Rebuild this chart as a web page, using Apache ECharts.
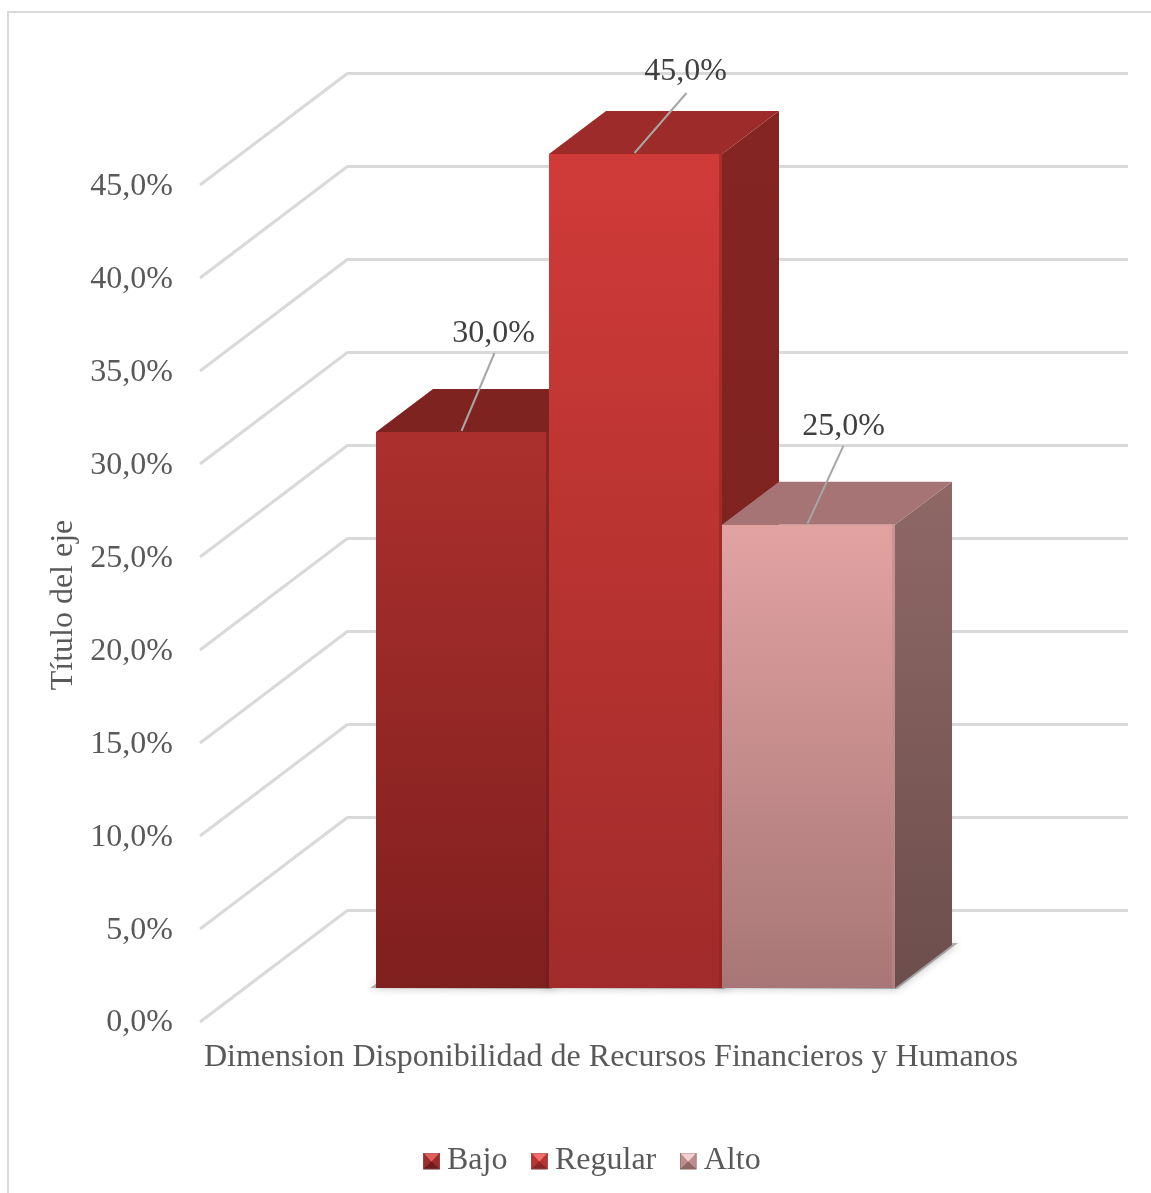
<!DOCTYPE html>
<html>
<head>
<meta charset="utf-8">
<style>html,body{margin:0;padding:0;background:#fff}#c{width:1151px;height:1193px}</style>
<script src="https://cdn.jsdelivr.net/npm/echarts@6/dist/echarts.min.js"></script>
</head>
<body>
<div id="c"></div>
<script>
const categories = ['Bajo', 'Regular', 'Alto'];
const values = [30, 45, 25];
const axisCategory = ['Dimension Disponibilidad de Recursos Financieros y Humanos'];
const yTicks = [0, 5, 10, 15, 20, 25, 30, 35, 40, 45];

const FONT = '"Liberation Serif", "Times New Roman", serif';
const TEXT = '#595959';
const DEPTH = [57, -43];
const WALL = [-148, 112];
const LABEL_SHIFT = [[31, -98, 32, -79], [50, -82, 51, -61], [35, -98, 35, -79]];
const SKIN = [
  { front: ['#ab302d', '#7f1f1e'], side: ['#7f2320', '#6c1c1a'], top: '#7f2320', edge: '#6d1d1b', icon: ['#e0605c', '#9c2b29', '#6a1e1d'] },
  { front: ['#d03b38', '#a02b2a'], side: ['#842522', '#7a211f'], top: '#9c2b29', edge: '#8a2624', icon: ['#f0706c', '#b93331', '#8c2625'] },
  { front: ['#e2a2a2', '#a87676'], side: ['#8f6866', '#6c4e4c'], top: '#a67474', edge: '#b98a8a', icon: ['#f4d2d2', '#c08c8c', '#8f6866'] }
];

function grad(c) {
  return new echarts.graphic.LinearGradient(0, 0, 0, 1, [
    { offset: 0, color: c[0] }, { offset: 1, color: c[1] }
  ]);
}
function iconOf(s) {
  const c = s.icon;
  const svg = '<svg xmlns="http://www.w3.org/2000/svg" width="17" height="17">' +
    '<rect width="17" height="17" fill="' + c[1] + '"/>' +
    '<path d="M0 0H17L8.5 9Z" fill="' + c[0] + '"/>' +
    '<path d="M0 17H17L8.5 9Z" fill="' + c[2] + '"/>' +
    '<rect x=".5" y=".5" width="16" height="16" fill="none" stroke="#7a5a5a" stroke-opacity=".6"/></svg>';
  return 'image://data:image/svg+xml;charset=utf-8,' + encodeURIComponent(svg);
}
function barRender(i) {
  return function (params, api) {
    const idx = api.value(0), val = api.value(1);
    const tl = api.coord([idx, val]);
    const br = api.coord([idx + 1, 0]);
    const s = SKIN[i], x0 = tl[0], x1 = br[0], y1 = tl[1], y0 = br[1];
    const dx = DEPTH[0], dy = DEPTH[1];
    const sh = LABEL_SHIFT[i], cx = (x0 + x1) / 2;
    return {
      type: 'group',
      children: [
        { type: 'polygon', shape: { points: [[x1, y1], [x1 + dx, y1 + dy], [x1 + dx, y0 + dy], [x1, y0]] },
          style: { fill: grad(s.side) } },
        { type: 'polygon', shape: { points: [[x0, y1], [x1, y1], [x1 + dx, y1 + dy], [x0 + dx, y1 + dy]] },
          style: { fill: s.top } },
        { type: 'rect', shape: { x: x0, y: y1, width: x1 - x0, height: y0 - y1 },
          style: { fill: grad(s.front) } },
        { type: 'rect', shape: { x: x1 - 3, y: y1, width: 3, height: y0 - y1 },
          style: { fill: s.edge, opacity: 0.55 } },
        { type: 'line', shape: { x1: cx + sh[2], y1: y1 + sh[3], x2: cx - 1, y2: y1 - 1 },
          style: { stroke: '#a6a6a6', lineWidth: 2 } },
        { type: 'text', x: cx + sh[0], y: y1 + sh[1],
          style: { text: val.toFixed(1).replace('.', ',') + '%', font: '32px ' + FONT, fill: '#404040', align: 'center', verticalAlign: 'middle' } }
      ]
    };
  };
}
function shadowRender(params, api) {
  const tl = api.coord([api.value(0), 0]);
  const br = api.coord([api.value(0) + 1, 0]);
  const y = br[1], a = tl[0], b = br[0];
  return { type: 'polygon',
    shape: { points: [[a - 6, y], [b + 2, y + 1], [b + DEPTH[0] + 6, y + DEPTH[1] - 2], [a + DEPTH[0], y + DEPTH[1]]] },
    style: { fill: 'rgba(90,90,90,.45)', shadowBlur: 9, shadowColor: 'rgba(0,0,0,.55)' } };
}
function wallRender(params, api) {
  const p = api.coord([0, api.value(0)]);
  return { type: 'line', shape: { x1: p[0], y1: p[1], x2: p[0] + WALL[0], y2: p[1] + WALL[1] },
    style: { stroke: '#d9d9d9', lineWidth: 3 } };
}

const chart = echarts.init(document.getElementById('c'), null, { renderer: 'canvas' });
chart.setOption({
  backgroundColor: '#ffffff',
  animation: false,
  textStyle: { fontFamily: FONT },
  graphic: [{ type: 'rect', silent: true, z: -1,
    shape: { x: 8, y: 12, width: 1300, height: 1400 },
    style: { fill: 'none', stroke: '#d9d9d9', lineWidth: 2 } }],
  legend: {
    left: 418, top: 1140,
    itemWidth: 17, itemHeight: 17, itemGap: 23.5,
    textStyle: { fontFamily: FONT, fontSize: 32, color: TEXT, padding: [0, 0, 0, 2] },
    data: categories.map((n, i) => ({ name: n, icon: iconOf(SKIN[i]) }))
  },
  grid: [
    { left: 348, right: 23, top: 73, bottom: 283 },
    { left: 199, right: 128, top: 187, bottom: 170 },
    { left: 376, right: 256, top: 154, bottom: 205 }
  ],
  xAxis: [
    { gridIndex: 0, type: 'value', min: 0, max: 1, show: false },
    { gridIndex: 1, type: 'category', data: axisCategory,
      axisLine: { show: false }, axisTick: { show: false },
      axisLabel: { fontSize: 32, color: TEXT, margin: 19, fontFamily: FONT } },
    { gridIndex: 2, type: 'value', min: 0, max: 3, show: false }
  ],
  yAxis: [
    { gridIndex: 0, type: 'value', min: 0, max: 45, interval: 5,
      axisLine: { show: false }, axisTick: { show: false }, axisLabel: { show: false },
      splitLine: { show: true, lineStyle: { color: '#d9d9d9', width: 3 } } },
    { gridIndex: 1, type: 'value', min: 0, max: 45, interval: 5,
      name: 'Título del eje', nameLocation: 'middle', nameGap: 115, nameRotate: 90,
      nameTextStyle: { fontSize: 32, color: TEXT, fontFamily: FONT },
      axisLine: { show: false }, axisTick: { show: false }, splitLine: { show: false },
      axisLabel: { fontSize: 32, color: TEXT, margin: 26, fontFamily: FONT,
        formatter: v => v.toFixed(1).replace('.', ',') + '%' } },
    { gridIndex: 2, type: 'value', min: 0, max: 45, interval: 5, show: false }
  ],
  series: [
    { type: 'custom', name: 'pared', xAxisIndex: 0, yAxisIndex: 0, z: 1, silent: true, clip: false,
      renderItem: wallRender, encode: { y: 0 }, data: yTicks.map(v => [v]) },
    { type: 'custom', name: 'sombra', xAxisIndex: 2, yAxisIndex: 2, z: 2, silent: true, clip: false,
      renderItem: shadowRender, encode: { x: 0, y: 1 }, data: values.map((v, i) => [i, v]) }
  ].concat(categories.map((name, i) => ({
    type: 'custom', name: name, xAxisIndex: 2, yAxisIndex: 2, z: 3 + i, clip: false,
    itemStyle: { color: SKIN[i].front[0] },
    renderItem: barRender(i), encode: { x: 0, y: 1 }, data: [[i, values[i]]]
  })))
});
</script>
</body>
</html>
